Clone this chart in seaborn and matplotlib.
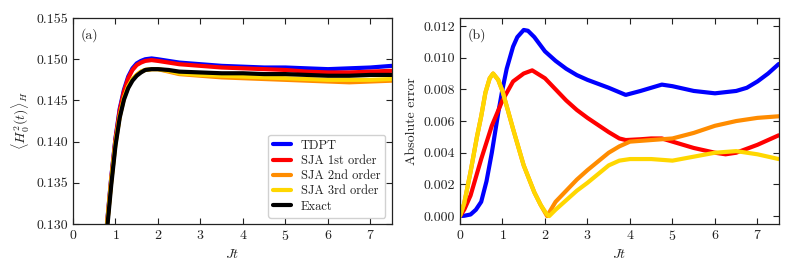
import numpy as np
import pandas as pd
import matplotlib
matplotlib.use("Agg")
import matplotlib.pyplot as plt
import seaborn as sns

# ---------------- data: panel (a) ----------------
t_a = [0.5, 0.6, 0.7, 0.8, 0.9, 1.0, 1.1, 1.2, 1.3, 1.4, 1.5, 1.6, 1.7, 1.85, 2.0,
       2.25, 2.5, 3.0, 3.5, 4.0, 4.5, 5.0, 5.5, 6.0, 6.5, 7.0, 7.5]
a_tdpt = [0.1118, 0.1178, 0.1240, 0.1300, 0.1356, 0.1404, 0.1440, 0.1463, 0.1479, 0.1489,
          0.1495, 0.1498, 0.1500, 0.1501, 0.1500, 0.1498, 0.1496, 0.1494, 0.1492, 0.1491,
          0.1490, 0.1490, 0.1489, 0.1488, 0.1489, 0.1490, 0.1492]
a_sja1 = [0.1117, 0.1177, 0.1239, 0.1299, 0.1355, 0.1403, 0.1438, 0.1461, 0.1477, 0.1487,
          0.1493, 0.1496, 0.1498, 0.1499, 0.1498, 0.1496, 0.1494, 0.1492, 0.1490, 0.1489,
          0.1488, 0.1487, 0.1485, 0.1484, 0.1484, 0.1485, 0.1486]
a_sja2 = [0.1116, 0.1176, 0.1237, 0.1297, 0.1352, 0.1398, 0.1431, 0.1453, 0.1467, 0.1476,
          0.1481, 0.1485, 0.1487, 0.1488, 0.1488, 0.1485, 0.1482, 0.1480, 0.1478, 0.1477,
          0.1476, 0.1475, 0.1474, 0.1473, 0.1472, 0.1473, 0.1474]
a_sja3 = [0.1116, 0.1176, 0.1237, 0.1297, 0.1352, 0.1398, 0.1431, 0.1453, 0.1467, 0.1476,
          0.1481, 0.1485, 0.1487, 0.1488, 0.1488, 0.1486, 0.1483, 0.1481, 0.1480, 0.1479,
          0.1478, 0.1477, 0.1476, 0.1475, 0.1475, 0.1475, 0.1476]
a_exact = [0.1113, 0.1172, 0.1232, 0.1292, 0.1347, 0.1395, 0.1429, 0.1451, 0.1465, 0.1474,
           0.1480, 0.1484, 0.1487, 0.1488, 0.1488, 0.1487, 0.1485, 0.1484, 0.1483, 0.1483,
           0.1482, 0.1482, 0.1481, 0.1480, 0.1480, 0.1481, 0.1481]

# ---------------- data: panel (b) ----------------
t_b_tdpt = [0, 0.1, 0.25, 0.375, 0.5, 0.625, 0.75, 0.9, 1.0, 1.1, 1.25, 1.35, 1.5, 1.6,
            1.75, 2.0, 2.25, 2.5, 2.75, 3.0, 3.5, 3.9, 4.25, 4.5, 4.75, 5.0, 5.5, 6.0,
            6.5, 6.75, 7.0, 7.25, 7.5]
b_tdpt = [0, 0.00002, 0.0001, 0.0004, 0.0009, 0.0022, 0.0040, 0.0065, 0.0080, 0.0093,
          0.0107, 0.0113, 0.01175, 0.0117, 0.0113, 0.0104, 0.0098, 0.0093, 0.0089, 0.0086,
          0.0081, 0.00765, 0.0079, 0.0081, 0.0083, 0.0082, 0.0079, 0.00775, 0.0079,
          0.0081, 0.0085, 0.0090, 0.0096]
t_b_sja1 = [0, 0.1, 0.25, 0.5, 0.75, 1.0, 1.25, 1.5, 1.7, 2.0, 2.25, 2.5, 2.75, 3.0, 3.5,
            3.75, 3.9, 4.25, 4.5, 4.75, 5.0, 5.5, 6.0, 6.25, 6.5, 7.0, 7.5]
b_sja1 = [0, 0.0004, 0.0013, 0.0036, 0.0057, 0.0073, 0.0085, 0.0090, 0.0092, 0.0087,
          0.0080, 0.0073, 0.0067, 0.0062, 0.0053, 0.0049, 0.0048, 0.00485, 0.0049,
          0.0049, 0.0047, 0.0043, 0.0040, 0.0039, 0.0040, 0.0045, 0.0051]
t_b_sja2 = [0, 0.1, 0.25, 0.4, 0.5, 0.6, 0.7, 0.78, 0.9, 1.0, 1.25, 1.5, 1.75, 1.9, 2.05,
            2.25, 2.5, 2.75, 3.0, 3.5, 3.75, 4.0, 4.5, 5.0, 5.5, 6.0, 6.5, 7.0, 7.5]
b_sja2 = [0, 0.0008, 0.0028, 0.0050, 0.0063, 0.0078, 0.0087, 0.0090, 0.0086, 0.0079,
          0.0055, 0.0032, 0.0015, 0.0007, 0.0, 0.0009, 0.0016, 0.0023, 0.0029, 0.0040,
          0.0044, 0.0047, 0.0048, 0.0049, 0.00525, 0.0057, 0.0060, 0.0062, 0.0063]
t_b_sja3 = [0, 0.1, 0.25, 0.4, 0.5, 0.6, 0.7, 0.78, 0.9, 1.0, 1.25, 1.5, 1.75, 1.9, 2.05,
            2.1, 2.25, 2.5, 2.75, 3.0, 3.5, 3.75, 4.0, 4.5, 5.0, 5.5, 6.0, 6.5, 7.0, 7.5]
b_sja3 = [0, 0.0008, 0.0028, 0.0050, 0.0063, 0.0078, 0.0087, 0.0090, 0.0086, 0.0079,
          0.0055, 0.0032, 0.0015, 0.0007, 0.0001, 0.0, 0.0004, 0.0010, 0.0016, 0.0021,
          0.0032, 0.0035, 0.0036, 0.0036, 0.0035, 0.00375, 0.0040, 0.0041, 0.0039, 0.0036]

labels = ["TDPT", "SJA 1st order", "SJA 2nd order", "SJA 3rd order", "Exact"]
colors = ["#0000ff", "#ff0000", "#ff8c00", "#ffd700", "#000000"]

# ---------------- style ----------------
sns.set_style("ticks")
plt.rcParams.update({
    "font.family": ["serif"],
    "font.serif": ["cmr10", "DejaVu Serif"],
    "mathtext.fontset": "cm",
    "axes.formatter.use_mathtext": True,
    "axes.unicode_minus": False,
    "font.size": 10,
    "axes.linewidth": 0.9,
    "axes.edgecolor": "#222222",
    "xtick.direction": "in",
    "ytick.direction": "in",
    "xtick.top": True,
    "ytick.right": True,
    "xtick.major.size": 4,
    "ytick.major.size": 4,
    "xtick.color": "#222222",
    "ytick.color": "#222222",
    "text.color": "#222222",
    "axes.labelcolor": "#222222",
})

fig = plt.figure(figsize=(7.93, 2.74), dpi=100)
ax1 = fig.add_axes([0.092, 0.1825, 0.402, 0.7515])
ax2 = fig.add_axes([0.580, 0.1825, 0.402, 0.7515])

lw = 3.0
series_a = [a_tdpt, a_sja1, a_sja2, a_sja3, a_exact]
for y, lab, col in zip(series_a, labels, colors):
    sns.lineplot(x=t_a, y=y, ax=ax1, color=col, lw=lw, label=lab)

ax1.set_xlim(0, 7.5)
ax1.set_ylim(0.130, 0.155)
ax1.set_xticks(range(0, 8))
ax1.set_yticks([0.130, 0.135, 0.140, 0.145, 0.150, 0.155])
ax1.set_yticklabels(["0.130", "0.135", "0.140", "0.145", "0.150", "0.155"])
ax1.set_xlabel(r"$Jt$")
ax1.set_ylabel(r"$\langle H_0^2(t)\rangle_H$")
ax1.text(0.025, 0.95, "(a)", transform=ax1.transAxes, ha="left", va="top")
leg = ax1.legend(loc="lower right", fontsize=9, handlelength=1.4, handletextpad=0.8,
                 labelspacing=0.25, borderpad=0.4, fancybox=True, framealpha=0.9,
                 edgecolor="#cccccc")
for h in leg.get_lines():
    h.set_linewidth(3.0)

ts_b = [t_b_tdpt, t_b_sja1, t_b_sja2, t_b_sja3]
series_b = [b_tdpt, b_sja1, b_sja2, b_sja3]
for tt, y, col in zip(ts_b, series_b, colors[:4]):
    sns.lineplot(x=tt, y=y, ax=ax2, color=col, lw=lw)

ax2.set_xlim(0, 7.5)
ax2.set_ylim(-0.0005, 0.0125)
ax2.set_xticks(range(0, 8))
ax2.set_yticks([0, 0.002, 0.004, 0.006, 0.008, 0.010, 0.012])
ax2.set_yticklabels(["0.000", "0.002", "0.004", "0.006", "0.008", "0.010", "0.012"])
ax2.set_xlabel(r"$Jt$")
ax2.set_ylabel("Absolute error")
ax2.text(0.025, 0.95, "(b)", transform=ax2.transAxes, ha="left", va="top")

fig.savefig("out.png", dpi=100)
